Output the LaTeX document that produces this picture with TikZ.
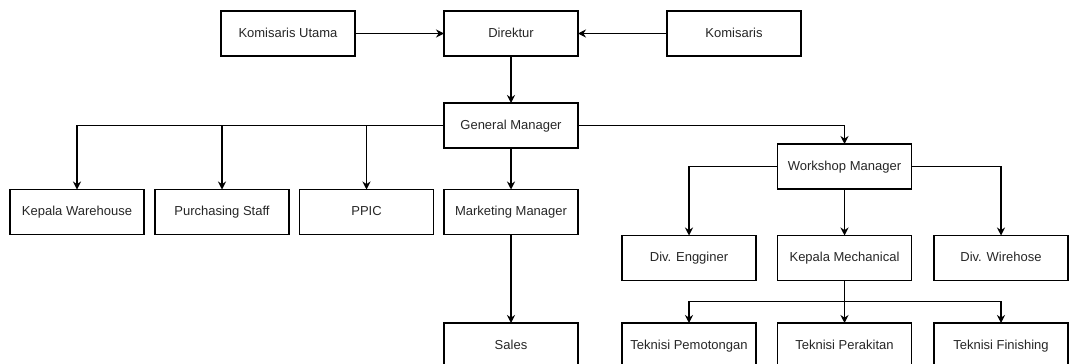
\documentclass[tikz,border=0pt]{standalone}
\usepackage{fontspec}
\setmainfont{Liberation Sans}
\usetikzlibrary{calc}
\usetikzlibrary{shapes,arrows.meta,positioning}

\tikzset{
    unit/.style={draw,line width=1.1pt,minimum width=134pt,minimum height=45pt,
        inner sep=0pt,outer sep=0pt,text height=9.5pt,text depth=2.5pt,
        text=black!85,font=\fontsize{13}{15}\selectfont},
    arr/.style={line width=1.1pt,-{Stealth[length=8pt,width=8pt]}},
    ln/.style={line width=1.1pt}
}

\begin{document}
\begin{tikzpicture}[x=1pt,y=-1pt]
    \useasboundingbox (0,0) rectangle (1069,364);
    % top row
    \node[unit] (kutama) at (288,33.5) {Komisaris Utama};
    \node[unit] (direktur) at (511,33.5) {Direktur};
    \node[unit] (komisaris) at (734,33.5) {Komisaris};
    \node[unit] (gm) at (511,125.5) {General Manager};
    % under general manager
    \node[unit] (warehouse) at (77,212) {Kepala Warehouse};
    \node[unit] (purchasing) at (222,212) {Purchasing Staff};
    \node[unit] (ppic) at (366.5,212) {PPIC};
    \node[unit] (marketing) at (511,212) {Marketing Manager};
    \node[unit] (sales) at (511,345.5) {Sales};
    % workshop
    \node[unit] (workshop) at (844.5,166.5) {Workshop Manager};
    \node[unit] (engginer) at (689,258) {Div. Engginer};
    \node[unit] (mechanical) at (844.5,258) {Kepala Mechanical};
    \node[unit] (wirehose) at (1001,258) {Div. Wirehose};
    \node[unit] (pemotongan) at (689,345.5) {Teknisi Pemotongan};
    \node[unit] (perakitan) at (844.5,345.5) {Teknisi Perakitan};
    \node[unit] (finishing) at (1001,345.5) {Teknisi Finishing};

    \draw[arr] (kutama) -- (direktur);
    \draw[arr] (komisaris) -- (direktur);
    \draw[arr] (direktur) -- (gm);
    \draw[arr] (gm.west) -| (warehouse.north);
    \draw[arr] (gm.west) -| (purchasing.north);
    \draw[arr] (gm.west) -| (ppic.north);
    \draw[arr] (gm) -- (marketing);
    \draw[arr] (gm.east) -| (workshop.north);
    \draw[arr] (marketing) -- (sales);
    \draw[arr] (workshop.west) -| (engginer.north);
    \draw[arr] (workshop) -- (mechanical);
    \draw[arr] (workshop.east) -| (wirehose.north);
    \coordinate (split) at ($(mechanical.south)!0.5!(perakitan.north)$);
    \draw[arr] (mechanical) -- (perakitan);
    \draw[arr] (split) -| (pemotongan.north);
    \draw[arr] (split) -| (finishing.north);
\end{tikzpicture}
\end{document}
